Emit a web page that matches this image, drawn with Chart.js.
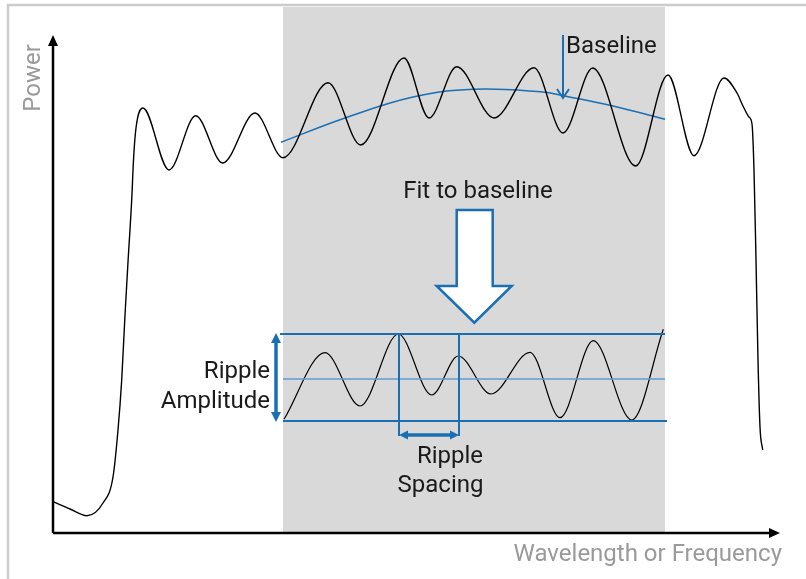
<!DOCTYPE html>
<html>
<head>
<meta charset="utf-8">
<script src="https://cdn.jsdelivr.net/npm/chart.js@4"></script>
<style>
  html, body { margin: 0; padding: 0; background: #fff; }
  #wrap { width: 806px; height: 579px; }
</style>
</head>
<body>
<div id="wrap"><canvas id="chart" width="806" height="579"></canvas></div>
<script>
const specX = [0, 17, 34, 50, 60, 65, 68.7, 72, 75, 78.7, 80.5, 83, 90, 116, 142.7, 169.7, 202, 230,
  275, 307.7, 351, 376, 403.7, 441, 481, 510, 539.7, 582.7, 615, 641, 671, 684, 690, 696, 699,
  701, 703, 705, 707, 709.7];
const specY = [31.3, 24, 17.3, 30, 56, 103, 153, 218, 271, 333, 373, 405, 425, 363, 417.3, 370, 420, 375.3,
  450.3, 388, 475, 415, 466.3, 415, 465.3, 400, 465, 367, 458, 377.3, 455, 440, 427, 416, 409,
  363, 273, 173, 106, 83];

// fitted baseline
const baseX = [228, 292, 360, 420, 490, 510, 560, 612];
const baseY = [390.7, 415, 436, 443.7, 441, 437.3, 427, 413.7];

// ripple after baseline removal
const ripX = [231, 272, 307, 345.3, 378.7, 405.3, 438, 477, 507, 540.3, 578.7, 610.3];
const ripY = [113.7, 180.3, 127, 199, 138, 177, 139, 180.7, 115.3, 192.3, 113, 203.7];

// ripple levels: max, mean, min
const rippleLevels = [199, 154, 112];
const rippleRange = [227, 612];
// fitted region
const fitRange = [230, 612];
// ripple spacing (between two peaks)
const spacing = [346, 406];

const BLUE = '#1a6fb3';
const GREY_TEXT = '#9a9a9a';
const FONT = 'Roboto, "Noto Sans", sans-serif';

const pts = (xs, ys) => xs.map((x, i) => ({ x, y: ys[i] }));

const diagram = {
  id: 'diagram',
  beforeDatasetsDraw(chart) {
    const { ctx, scales: { x, y } } = chart;
    const X = v => x.getPixelForValue(v), Y = v => y.getPixelForValue(v);
    ctx.save();
    // page frame (top and left)
    ctx.strokeStyle = '#cccccc';
    ctx.lineWidth = 2.5;
    ctx.beginPath();
    ctx.moveTo(X(-45), chart.height + 2);
    ctx.lineTo(X(-45), Y(528));
    ctx.lineTo(chart.width + 2, Y(528));
    ctx.stroke();
    // shaded fit region
    ctx.fillStyle = '#d9d9d9';
    ctx.fillRect(X(fitRange[0]), Y(526), X(fitRange[1]) - X(fitRange[0]), Y(0) - Y(526));
    ctx.restore();
  },
  afterDatasetsDraw(chart) {
    const { ctx, scales: { x, y } } = chart;
    const X = v => x.getPixelForValue(v), Y = v => y.getPixelForValue(v);

    const head = (tx, ty, dx, dy, len, half, color) => {
      const bx = tx - dx * len, by = ty - dy * len;
      ctx.fillStyle = color;
      ctx.beginPath();
      ctx.moveTo(tx, ty);
      ctx.lineTo(bx - dy * half, by + dx * half);
      ctx.lineTo(bx + dy * half, by - dx * half);
      ctx.closePath();
      ctx.fill();
    };
    const line = (x1, y1, x2, y2, w, color) => {
      ctx.strokeStyle = color;
      ctx.lineWidth = w;
      ctx.beginPath();
      ctx.moveTo(x1, y1);
      ctx.lineTo(x2, y2);
      ctx.stroke();
    };
    const text = (s, tx, ty, align, color) => {
      ctx.fillStyle = color;
      ctx.textAlign = align;
      ctx.textBaseline = 'middle';
      ctx.fillText(s, tx, ty);
    };

    ctx.save();
    // axes
    line(X(0), Y(0), X(0), Y(498) + 8, 2.5, '#000');
    head(X(0), Y(498), 0, -1, 11, 5, '#000');
    line(X(0), Y(0), X(727) - 8, Y(0), 2.5, '#000');
    head(X(727), Y(0), 1, 0, 11, 5, '#000');

    // baseline pointer
    line(X(510), Y(498), X(510), Y(435), 2, BLUE);
    ctx.beginPath();
    ctx.moveTo(X(510) - 6, Y(435) - 9);
    ctx.lineTo(X(510), Y(435));
    ctx.lineTo(X(510) + 6, Y(435) - 9);
    ctx.stroke();

    // big "fit" arrow
    ctx.beginPath();
    ctx.moveTo(X(403.7), Y(323));
    ctx.lineTo(X(439.7), Y(323));
    ctx.lineTo(X(439.7), Y(247));
    ctx.lineTo(X(458.7), Y(247));
    ctx.lineTo(X(421.3), Y(210.3));
    ctx.lineTo(X(383.7), Y(247));
    ctx.lineTo(X(403.7), Y(247));
    ctx.closePath();
    ctx.fillStyle = '#fff';
    ctx.fill();
    ctx.strokeStyle = BLUE;
    ctx.lineWidth = 2.5;
    ctx.stroke();

    // ripple amplitude arrow
    const ax = X(223);
    line(ax, Y(rippleLevels[0]) + 8, ax, Y(rippleLevels[2]) - 8, 3.5, BLUE);
    head(ax, Y(rippleLevels[0]) - 1, 0, -1, 10, 5, BLUE);
    head(ax, Y(rippleLevels[2]) + 1, 0, 1, 10, 5, BLUE);

    // ripple spacing
    line(X(spacing[0]), Y(rippleLevels[0]), X(spacing[0]), Y(97), 2, BLUE);
    line(X(spacing[1]), Y(rippleLevels[0]), X(spacing[1]), Y(97), 2, BLUE);
    line(X(spacing[0]) + 7, Y(98), X(spacing[1]) - 7, Y(98), 3.5, BLUE);
    head(X(spacing[0]), Y(98), -1, 0, 9, 4.5, BLUE);
    head(X(spacing[1]), Y(98), 1, 0, 9, 4.5, BLUE);

    // labels
    ctx.font = '24px ' + FONT;
    text('Baseline', X(513), Y(486), 'left', '#1a1a1a');
    text('Fit to baseline', X(425), Y(341.3), 'center', '#1a1a1a');
    text('Ripple', X(217), Y(161), 'right', '#1a1a1a');
    text('Amplitude', X(217), Y(131), 'right', '#1a1a1a');
    text('Ripple', X(397), Y(76), 'center', '#1a1a1a');
    text('Spacing', X(387.5), Y(47), 'center', '#1a1a1a');
    text('Wavelength or Frequency', X(729), Y(-22), 'right', GREY_TEXT);

    ctx.translate(X(-19), Y(455));
    ctx.rotate(-Math.PI / 2);
    text('Power', 0, 0, 'center', GREY_TEXT);
    ctx.restore();
  }
};

new Chart(document.getElementById('chart'), {
  type: 'scatter',
  data: {
    datasets: [
      {
        label: 'Spectrum',
        data: pts(specX, specY),
        showLine: true,
        borderColor: '#000',
        borderWidth: 1.4,
        pointRadius: 0,
        cubicInterpolationMode: 'monotone'
      },
      {
        label: 'Baseline',
        data: pts(baseX, baseY),
        showLine: true,
        borderColor: BLUE,
        borderWidth: 1.5,
        pointRadius: 0,
        tension: 0.4
      },
      {
        label: 'Ripple max',
        data: pts(rippleRange, [rippleLevels[0], rippleLevels[0]]),
        showLine: true,
        borderColor: BLUE,
        borderWidth: 2,
        pointRadius: 0
      },
      {
        label: 'Ripple mean',
        data: pts([fitRange[0], rippleRange[1]], [rippleLevels[1], rippleLevels[1]]),
        showLine: true,
        borderColor: '#5d9bd0',
        borderWidth: 1.5,
        pointRadius: 0
      },
      {
        label: 'Ripple min',
        data: pts([fitRange[0], rippleRange[1] + 2], [rippleLevels[2], rippleLevels[2]]),
        showLine: true,
        borderColor: BLUE,
        borderWidth: 2,
        pointRadius: 0
      },
      {
        label: 'Ripple',
        data: pts(ripX, ripY),
        showLine: true,
        borderColor: '#000',
        borderWidth: 1.2,
        pointRadius: 0,
        cubicInterpolationMode: 'monotone'
      }
    ]
  },
  options: {
    responsive: false,
    devicePixelRatio: 1,
    animation: false,
    layout: { padding: 0 },
    plugins: {
      legend: { display: false },
      tooltip: { enabled: false }
    },
    scales: {
      x: { type: 'linear', min: -53, max: 753, display: false },
      y: { type: 'linear', min: -46, max: 533, display: false }
    }
  },
  plugins: [diagram]
});
</script>
</body>
</html>
